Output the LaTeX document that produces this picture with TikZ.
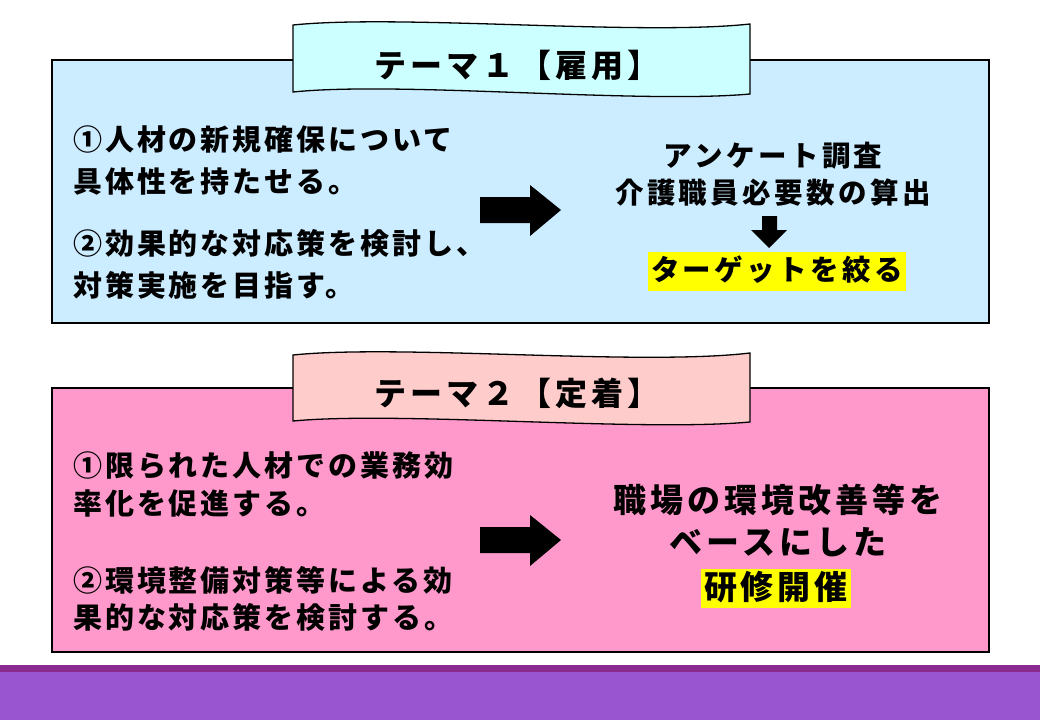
\documentclass[tikz,border=0pt]{standalone}
\usepackage{fontspec}
\setmainfont{Noto Sans CJK JP}
\newfontfamily\jpL{Noto Sans CJK JP}[LetterSpace=10]
\newfontfamily\jpT{Noto Sans CJK JP}[LetterSpace=13]
\newfontfamily\jpR{Noto Sans CJK JP}[LetterSpace=12]
\definecolor{boxA}{HTML}{CCECFF}
\definecolor{banA}{HTML}{CCFFFF}
\definecolor{boxB}{HTML}{FF99CC}
\definecolor{banB}{HTML}{FFCCCC}
\definecolor{barTop}{HTML}{8B2A8E}
\definecolor{barMain}{HTML}{9955D0}
\definecolor{hl}{HTML}{FFFF00}
\tikzset{
  panel/.style={draw=black, line width=1.6pt},
  banner/.style={draw=black, line width=1.3pt},
  ltext/.style={anchor=west, inner sep=0pt, font=\jpL\bfseries\fontsize{29}{34}\selectfont},
  ttext/.style={inner sep=0pt, font=\jpT\bfseries\fontsize{32}{38}\selectfont},
  rtext/.style={inner sep=0pt, font=\jpR\bfseries\fontsize{28.5}{34}\selectfont},
  btext/.style={inner sep=0pt, font=\jpR\bfseries\fontsize{33}{40}\selectfont},
  hlbox/.style={fill=hl, inner xsep=3pt},
  blockarrow/.style={fill=black, draw=none},
}
\begin{document}
\begin{tikzpicture}[x=1pt, y=-1pt]
\useasboundingbox (0,0) rectangle (1040,720);
\fill[white] (0,0) rectangle (1040,720);

% ---------- Panel 1 ----------
\draw[panel, fill=boxA] (52,60) rectangle (989,323);
\draw[banner, fill=banA] (293,25) .. controls (400,14) and (640,36) .. (750,24)
  -- (750,94) .. controls (640,104) and (400,81) .. (293,92) -- cycle;
\node[ttext] (t1) at (517,65) {テーマ１【雇用】};

\node[ltext] (a1) at (73,139) {①人材の新規確保について};
\node[ltext] (a2) at (73,181) {具体性を持たせる。};
\node[ltext] (a3) at (73,243) {②効果的な対応策を検討し、};
\node[ltext] (a4) at (73,285) {対策実施を目指す。};

\fill[blockarrow] (480,197) -- (530,197) -- (530,185) -- (561,210) -- (530,236) -- (530,223) -- (480,223) -- cycle;

\node[rtext] (r1) at (773,156) {アンケート調査};
\node[rtext] (r2) at (773,193) {介護職員必要数の算出};
\fill[blockarrow] (762,216) -- (777,216) -- (777,230) -- (787,230) -- (769,248) -- (751,230) -- (762,230) -- cycle;
\node[rtext, hlbox, text height=25pt, text depth=6pt, inner ysep=4pt] (r3) at (777,271) {ターゲットを絞る};

% ---------- Panel 2 ----------
\draw[panel, fill=boxB] (52,388) rectangle (989,652);
\draw[banner, fill=banB] (293,355) .. controls (400,344) and (640,366) .. (750,353)
  -- (750,422) .. controls (640,432) and (400,411) .. (293,421) -- cycle;
\node[ttext] (t2) at (517,393) {テーマ２【定着】};

\node[ltext] (b1) at (73,466) {①限られた人材での業務効};
\node[ltext] (b2) at (73,503) {率化を促進する。};
\node[ltext] (b3) at (73,580) {②環境整備対策等による効};
\node[ltext] (b4) at (73,617) {果的な対応策を検討する。};

\fill[blockarrow] (480,527) -- (530,527) -- (530,515) -- (561,540) -- (530,566) -- (530,553) -- (480,553) -- cycle;

\node[btext] (s1) at (778,500) {職場の環境改善等を};
\node[btext] (s2) at (778,542) {ベースにした};
\node[btext, hlbox, text height=29pt, text depth=6pt, inner ysep=2pt] (s3) at (776,588) {研修開催};

% ---------- bottom bar ----------
\fill[barMain] (0,665) rectangle (1040,720);
\fill[barTop] (0,665) rectangle (1040,672);
\end{tikzpicture}
\end{document}
